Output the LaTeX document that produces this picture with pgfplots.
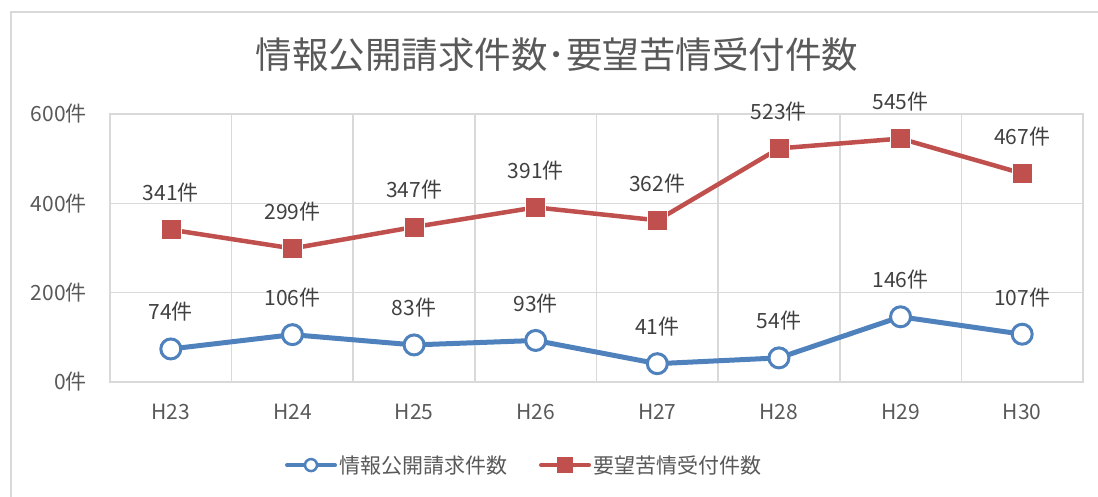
\documentclass[border=0pt]{standalone}
\usepackage{fontspec}
\setmainfont{Noto Sans CJK JP}
\usepackage{pgfplots}
\pgfplotsset{compat=1.18}
\definecolor{sblue}{HTML}{4F81BD}
\definecolor{sred}{HTML}{C0504D}
\definecolor{txt}{HTML}{595959}
\definecolor{lbl}{HTML}{404040}
\definecolor{grd}{HTML}{D9D9D9}
\newcommand\fs[1]{\fontsize{#1}{#1}\selectfont}
\begin{document}
\begin{tikzpicture}[x=1pt,y=1pt]
\useasboundingbox (0,-497) rectangle (1098,0);
\draw[grd, line width=1.5pt] (11,-497) -- (11,-12) -- (1098,-12);
\node[txt, font=\fs{36.5}] at (557,-55) {情報公開請求件数･要望苦情受付件数};
\begin{axis}[
  at={(110pt,-382pt)}, anchor=south west,
  scale only axis, width=973pt, height=268pt,
  xmin=-0.5, xmax=7.5, ymin=0, ymax=600,
  xtick={0,...,7},
  xticklabels={H23,H24,H25,H26,H27,H28,H29,H30},
  minor xtick={-0.5,0.5,...,7.5},
  ytick={0,200,400,600},
  yticklabels={0件,200件,400件,600件},
  major tick length=0pt, minor tick length=0pt,
  xminorgrids=true, ymajorgrids=true,
  grid style={grd, line width=1.6pt},
  minor grid style={grd, line width=1.6pt},
  axis line style={grd, line width=1.6pt},
  tick label style={txt, font=\fs{21}},
  x tick label style={anchor=center, yshift=-30pt},
  y tick label style={anchor=east, inner sep=0pt, xshift=-23pt},
  clip=false,
  /pgf/number format/assume math mode=true,
  nodes near coords={\pgfmathprintnumber{\pgfplotspointmeta}件},
  every node near coord/.style={lbl, font=\fs{21}, anchor=center, yshift=37pt},
  legend columns=2,
  legend style={at={(0.4255,-0.31)}, anchor=center, draw=none, fill=none,
    font=\fs{21}, text=txt,
    /tikz/every even column/.append style={column sep=30pt}},
]
\addplot[sblue, line width=5pt, mark=*, mark size=10pt,
  mark options={fill=white, draw=sblue, line width=3pt},
  legend image code/.code={
    \draw[sblue, line width=4pt, line cap=round] (0pt,0pt) -- (48pt,0pt);
    \draw[sblue, fill=white, line width=2.5pt] (24pt,0pt) circle (6pt);
  }]
  coordinates {(0,74)(1,106)(2,83)(3,93)(4,41)(5,54)(6,146)(7,107)};
\addlegendentry{情報公開請求件数}
\addplot[sred, line width=4.5pt, mark=square*, mark size=10pt,
  mark options={fill=sred, draw=white, line width=0.6pt},
  legend image code/.code={
    \draw[sred, line width=4pt, line cap=round] (0pt,0pt) -- (48pt,0pt);
    \fill[sred] (18.5pt,-5.5pt) rectangle (29.5pt,5.5pt);
  }]
  coordinates {(0,341)(1,299)(2,347)(3,391)(4,362)(5,523)(6,545)(7,467)};
\addlegendentry{要望苦情受付件数}
\end{axis}
\end{tikzpicture}
\end{document}
